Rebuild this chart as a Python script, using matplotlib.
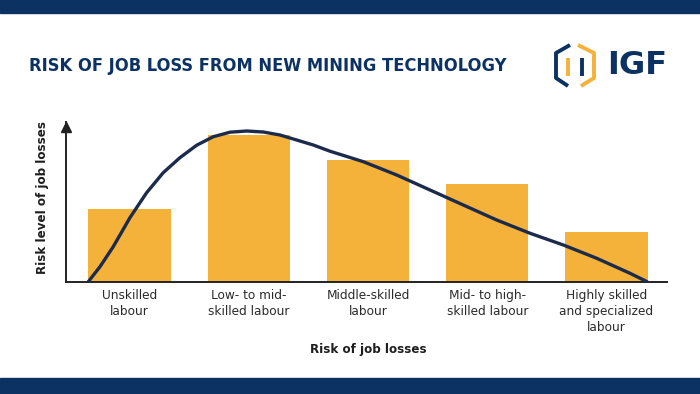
import matplotlib.pyplot as plt
from matplotlib import font_manager
from matplotlib.font_manager import FontProperties
from matplotlib.patches import Rectangle
from matplotlib.lines import Line2D

# ================================================================
# DATA
# ================================================================
categories = ["Unskilled\nlabour", "Low- to mid-\nskilled labour", "Middle-skilled\nlabour",
              "Mid- to high-\nskilled labour", "Highly skilled\nand specialized\nlabour"]
risk_level = [73, 147, 122, 98, 50]

# trend curve, x in category units, y in the same risk units
curve_x = [-0.345, -0.247, -0.136, 0.004, 0.144, 0.283, 0.423, 0.564, 0.703, 0.843,
           0.983, 1.122, 1.262, 1.402, 1.541, 1.681, 1.961, 2.241, 2.520, 2.799,
           3.079, 3.359, 3.638, 3.918, 4.197, 4.340]
curve_y = [0, 15, 35, 64, 89, 109, 124, 136.5, 145, 149.5,
           150.7, 149.7, 146.7, 141.7, 136.7, 130.5, 120, 106.7, 91.7, 76.7,
           61.7, 48.4, 36.7, 23.4, 8.4, 0]

NAVY = "#0c3163"
GOLD = "#f4b23a"
LINE = "#1c2b4c"
TEXT = "#2b2b2b"

W, H = 700, 394
fig = plt.figure(figsize=(7, 3.94), dpi=100)
fig.patch.set_facecolor("white")

# navy bands top and bottom
fig.add_artist(Rectangle((0, (H - 13) / H), 1, 13 / H, transform=fig.transFigure,
                         color=NAVY, zorder=0))
fig.add_artist(Rectangle((0, 0), 1, 16 / H, transform=fig.transFigure,
                         color=NAVY, zorder=0))

# ================================================================
# AXES
# ================================================================
ax = fig.add_axes([66 / W, (H - 281.7) / H, (667 - 66) / W, (281.7 - 122) / H])
x = list(range(len(categories)))
ax.bar(x, risk_level, width=0.69, color=GOLD, zorder=1)
ax.plot(curve_x, curve_y, color=LINE, lw=2.4, solid_capstyle="round",
        solid_joinstyle="round", zorder=3)

ax.set_xlim(-0.532, 4.507)
ax.set_ylim(0, 159.7)
for s in ["top", "right"]:
    ax.spines[s].set_visible(False)
for s in ["left", "bottom"]:
    ax.spines[s].set_color("#222222")
    ax.spines[s].set_linewidth(1.4)
ax.set_yticks([])
ax.set_xticks(x)
ax.set_xticklabels(categories, fontsize=8.7, color=TEXT, family="DejaVu Sans",
                   linespacing=1.3, va="top")
ax.tick_params(axis="x", length=0, pad=5)
# arrow head at the top of the y axis
ax.plot([0], [0.97], marker="^", markersize=7, color="#222222",
        transform=ax.transAxes, clip_on=False, zorder=4)

fig.text(43 / W, 1 - 198 / H, "Risk level of job losses", rotation=90,
         ha="center", va="center", fontsize=8.6, fontweight="bold", color="#1e1e1e")
fig.text(368 / W, 1 - 350 / H, "Risk of job losses", ha="center", va="center",
         fontsize=8.6, fontweight="bold", color="#1e1e1e")

# ================================================================
# TITLE + LOGO
# ================================================================
# condensed bold face if one is installed
cond = [f.fname for f in font_manager.fontManager.ttflist
        if ("Condensed" in f.fname or "Narrow" in f.fname) and "Bold" in f.fname
        and "Oblique" not in f.fname and "Italic" not in f.fname]
title_fp = FontProperties(fname=cond[0]) if cond else FontProperties(family="DejaVu Sans", weight="bold")

title = fig.text(29 / W, 1 - 66 / H, "RISK OF JOB LOSS FROM NEW MINING TECHNOLOGY",
                 ha="left", va="center", fontproperties=title_fp, color=NAVY)
title.set_fontsize(15.5)
# fit the title to its width in the reference (about 474 px)
fig.canvas.draw()
w = title.get_window_extent().width
title.set_fontsize(15.5 * 474 / w)

def px(pts):
    return [p[0] / W for p in pts], [1 - p[1] / H for p in pts]

for pts, col in [([(570, 45), (556, 53), (556, 78), (568, 86)], NAVY),
                 ([(578, 45), (594, 53), (594, 78), (581, 86)], GOLD),
                 ([(568, 58), (568, 76)], GOLD),
                 ([(582, 58), (582, 76)], NAVY)]:
    xs, ys = px(pts)
    fig.add_artist(Line2D(xs, ys, color=col, lw=2.8, transform=fig.transFigure,
                          solid_capstyle="butt"))

fig.text(607 / W, 1 - 65 / H, "IGF", ha="left", va="center", fontsize=23,
         fontweight="bold", color=NAVY)

fig.savefig("out.png", dpi=100)
